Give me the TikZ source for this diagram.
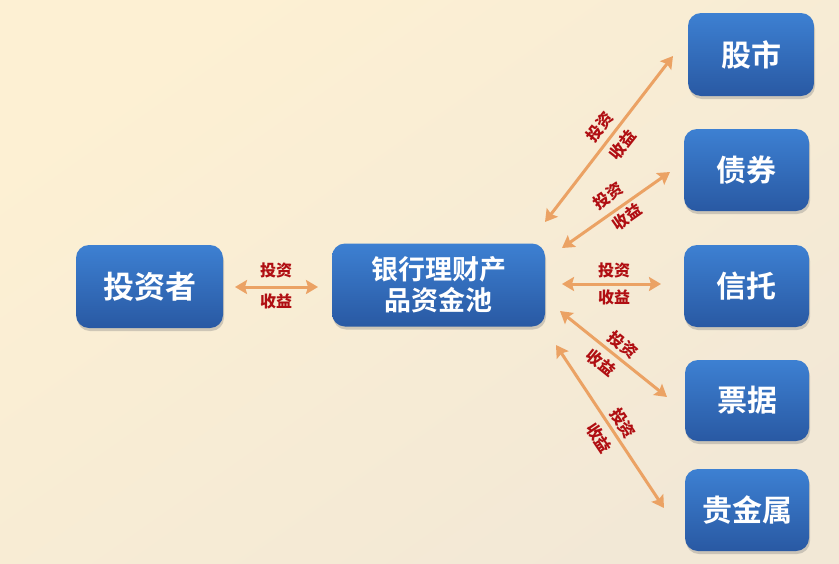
\documentclass[tikz,border=0pt]{standalone}
\usepackage{fontspec}
\setmainfont{Noto Sans CJK SC}
\newfontfamily\cjkb{Noto Sans CJK SC Bold}
\newfontfamily\cjkk{Noto Sans CJK SC Black}
\usetikzlibrary{arrows.meta,shadows}
\definecolor{boxtop}{HTML}{3D80D2}
\definecolor{boxbot}{HTML}{2959A3}
\definecolor{arr}{HTML}{EBA264}
\definecolor{lab}{HTML}{B00E12}
\definecolor{bga}{HTML}{FDF0D3}
\definecolor{bgb}{HTML}{F2E8D6}
\begin{document}
\begin{tikzpicture}[x=1pt,y=-1pt,
  bluebox/.style={rounded corners=13pt, top color=boxtop, bottom color=boxbot, draw=none,
    drop shadow={shadow xshift=1pt, shadow yshift=-3pt, opacity=0.35},
    text=white, font=\cjkb\fontsize{30}{34}\selectfont, align=center, inner sep=0pt},
  flow/.style={draw=arr, line width=3pt, {Stealth[length=12pt,width=14pt,inset=2pt]}-{Stealth[length=12pt,width=14pt,inset=2pt]}},
  lbl/.style={text=lab, font=\cjkk\fontsize{16}{16}\selectfont, inner sep=0pt}]
\shade[top color=bga, bottom color=bgb, shading angle=35] (0,0) rectangle (839,563);
\useasboundingbox (0,0) rectangle (839,563);
% boxes
\node[bluebox, minimum width=147pt, minimum height=83pt, font=\cjkb\fontsize{31}{34}\selectfont] (inv) at (149.5,286.5) {投资者};
\node[bluebox, minimum width=213pt, minimum height=83pt, font=\cjkb\fontsize{27}{31}\selectfont] (pool) at (438.5,285) {银行理财产\\品资金池};
\node[bluebox, minimum width=126pt, minimum height=83pt] (gs) at (751,54.5) {股市};
\node[bluebox, minimum width=125pt, minimum height=82pt] (zq) at (746.5,170) {债券};
\node[bluebox, minimum width=125pt, minimum height=82pt] (xt) at (746.5,286) {信托};
\node[bluebox, minimum width=124pt, minimum height=81pt] (pj) at (747,400.5) {票据};
\node[bluebox, minimum width=124pt, minimum height=82pt] (gjs) at (747,510) {贵金属};
% arrow end points
\coordinate (a1) at (235,287); \coordinate (b1) at (318,287);
\coordinate (a2) at (545,222); \coordinate (b2) at (673,56);
\coordinate (a3) at (562,248); \coordinate (b3) at (670,172);
\coordinate (a4) at (562,284); \coordinate (b4) at (661,284);
\coordinate (a5) at (560,311); \coordinate (b5) at (667,397);
\coordinate (a6) at (556,345); \coordinate (b6) at (664,508);
\draw[flow] (a1) -- (b1);
\draw[flow] (a2) -- (b2);
\draw[flow] (a3) -- (b3);
\draw[flow] (a4) -- (b4);
\draw[flow] (a5) -- (b5);
\draw[flow] (a6) -- (b6);
% labels
\node[lbl] (l1a) at (276,270) {投资};
\node[lbl] (l1b) at (276,301) {收益};
\node[lbl, rotate=52] (l2a) at (600,127) {投资};
\node[lbl, rotate=52] (l2b) at (623,145) {收益};
\node[lbl, rotate=35] (l3a) at (608,196) {投资};
\node[lbl, rotate=35] (l3b) at (627,217) {收益};
\node[lbl] (l4a) at (614,270) {投资};
\node[lbl] (l4b) at (614,297) {收益};
\node[lbl, rotate=-39] (l5a) at (623,345) {投资};
\node[lbl, rotate=-39] (l5b) at (601,363) {收益};
\node[lbl, rotate=-56] (l6a) at (623,423) {投资};
\node[lbl, rotate=-56] (l6b) at (599,438) {收益};
\end{tikzpicture}
\end{document}
